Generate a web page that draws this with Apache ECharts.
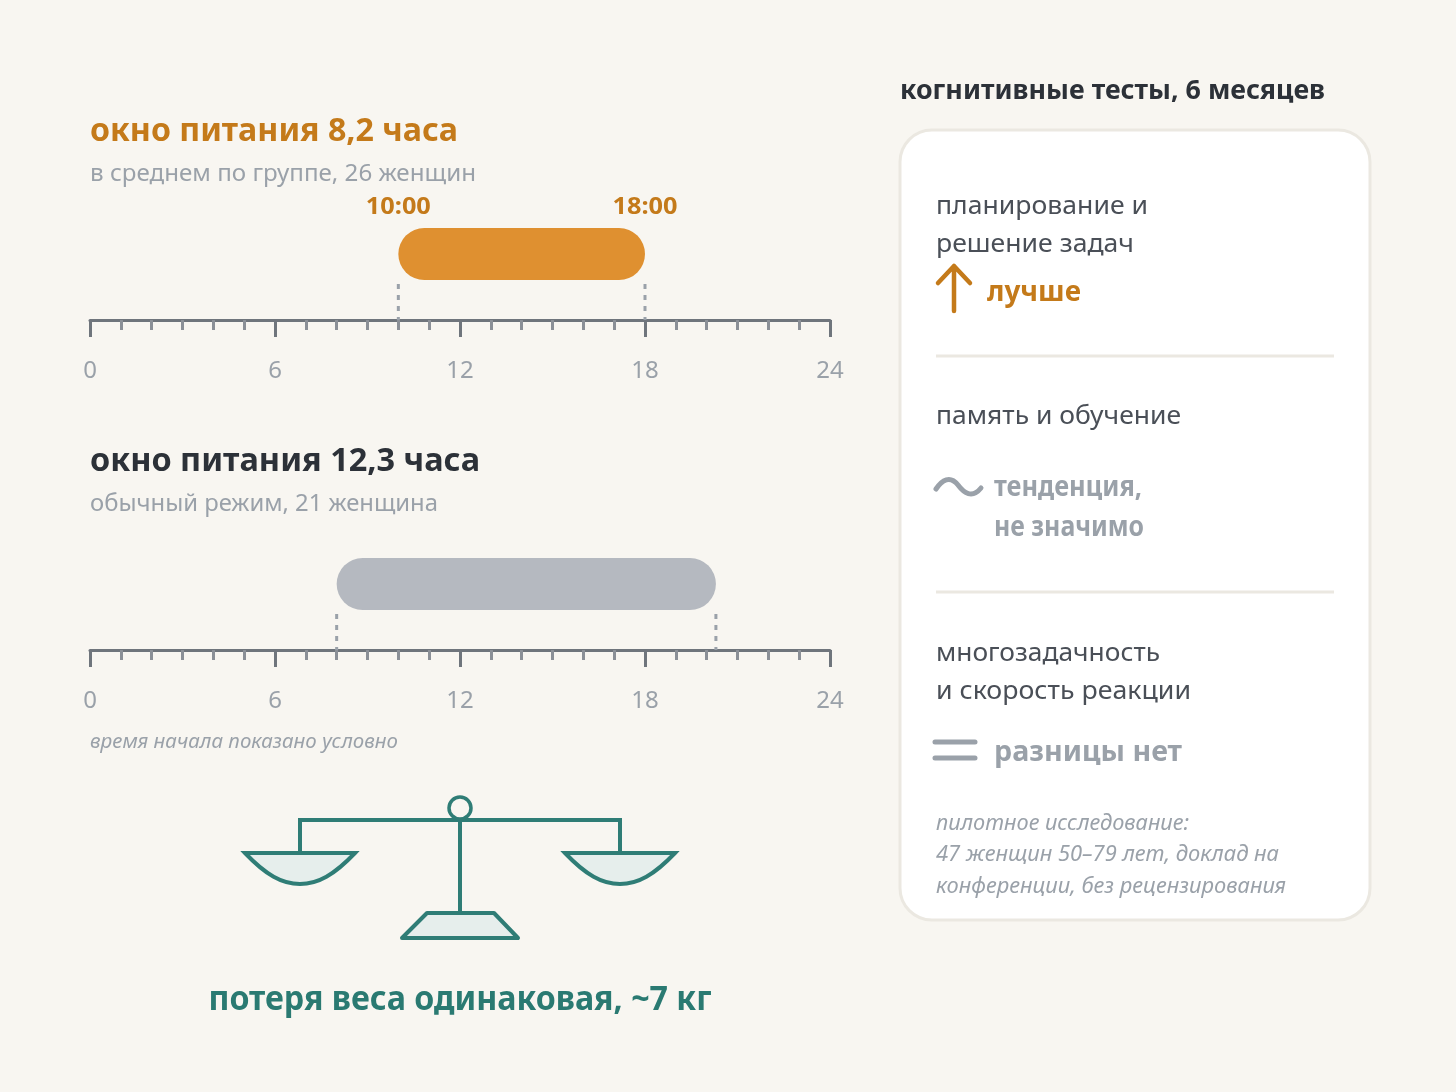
<!DOCTYPE html>
<html>
<head>
<meta charset="utf-8">
<script src="https://cdn.jsdelivr.net/npm/echarts@6/dist/echarts.min.js"></script>
<style>
  html, body { margin: 0; padding: 0; background: #f8f6f1; }
  #chart { width: 1456px; height: 1092px; }
</style>
</head>
<body>
<div id="chart"></div>
<script>
// часы: начало и конец окна питания
var shortWindow = [10, 18];
var usualWindow = [8, 20.3];
var shortTimeLabels = ['10:00', '18:00'];
var axisMax = 24;
var axisStep = 6;

var titleShort = 'окно питания 8,2 часа';
var subShort = 'в среднем по группе, 26 женщин';
var titleUsual = 'окно питания 12,3 часа';
var subUsual = 'обычный режим, 21 женщина';
var noteStart = 'время начала показано условно';
var weightText = 'потеря веса одинаковая, ~7 кг';
var cardHeading = 'когнитивные тесты, 6 месяцев';
var testPlanning = ['планирование и', 'решение задач'];
var verdictPlanning = 'лучше';
var testMemory = 'память и обучение';
var verdictMemory = ['тенденция,', 'не значимо'];
var testMulti = ['многозадачность', 'и скорость реакции'];
var verdictMulti = 'разницы нет';
var cardNote = ['пилотное исследование:', '47 женщин 50–79 лет, доклад на', 'конференции, без рецензирования'];

var FONT = '"Noto Sans", sans-serif';
var BG = '#f8f6f1', ORANGE = '#df9030', ORANGE_TXT = '#c47a1a', DARK = '#2c3138', GREY = '#9aa1a9',
    GREY_BAR = '#b5b9c0', BODY = '#4a4f57', TEAL = '#2f7d76', TEAL_TXT = '#2a7a72',
    AXIS = '#6f757c', TEAL_FILL = '#e6eeec', RULE = '#ebe8e1';

var measure = document.createElement('canvas').getContext('2d');

// текст, ужатый по горизонтали до нужной ширины
function txt(str, x, y, size, weight, color, width, italic, align) {
  var font = (italic ? 'italic ' : '') + weight + ' ' + size + 'px ' + FONT;
  measure.font = font;
  var w = measure.measureText(str).width;
  var style = { text: str, x: 0, y: 0, font: font, fill: color, textAlign: align || 'left', textVerticalAlign: 'middle' };
  return { type: 'text', x: x, y: y, scaleX: width ? width / w : 1, style: style };
}

function stroke(pathData, color, w, fill, join, cap) {
  return {
    type: 'path', shape: { pathData: pathData },
    style: { stroke: color, lineWidth: w, fill: fill || 'none', lineCap: cap || 'round', lineJoin: join || 'round' }
  };
}

function windowSeries(index, win, color, labels) {
  return {
    type: 'custom', xAxisIndex: index, yAxisIndex: index, clip: false, silent: true, z: 3,
    data: [win],
    renderItem: function (params, api) {
      var a = api.coord([api.value(0), 0]);
      var b = api.coord([api.value(1), 0]);
      var kids = [
        { type: 'rect', shape: { x: a[0], y: a[1] - 92, width: b[0] - a[0], height: 52, r: 26 }, style: { fill: color } }
      ];
      [a, b].forEach(function (p, i) {
        kids.push({
          type: 'line', shape: { x1: p[0], y1: p[1] - 36, x2: p[0], y2: p[1] },
          style: { stroke: GREY, lineWidth: 3, lineDash: [5, 6] }
        });
        if (labels) {
          kids.push(txt(labels[i], p[0], p[1] - 113, 24, 'bold', ORANGE_TXT, 65, false, 'center'));
        }
      });
      return { type: 'group', children: kids };
    },
    encode: { x: [0, 1] }
  };
}

function xAxisFor(index) {
  return {
    type: 'value', gridIndex: index, position: 'bottom', min: 0, max: axisMax, interval: axisStep,
    axisLine: { show: true, onZero: false, lineStyle: { color: AXIS, width: 3 } },
    axisTick: { show: true, length: 17, lineStyle: { color: AXIS, width: 3 } },
    minorTick: { show: true, splitNumber: axisStep, length: 10, lineStyle: { color: '#8b9097', width: 3 } },
    axisLabel: { color: GREY, fontFamily: FONT, fontSize: 24, margin: 39, hideOverlap: false },
    splitLine: { show: false }, minorSplitLine: { show: false }
  };
}

function yAxisFor(index) {
  return { type: 'value', gridIndex: index, min: 0, max: 1, show: false };
}

function decorItems() {
  return [
    // левая часть
    txt(titleShort, 90, 131.5, 32, 'bold', ORANGE_TXT, 368),
    txt(subShort, 90, 174, 24, 'normal', GREY, 386),
    txt(titleUsual, 90, 461.5, 32, 'bold', DARK, 390),
    txt(subUsual, 90, 504, 24, 'normal', GREY, 348),
    txt(noteStart, 90, 742, 20, 'normal', GREY, 308, true),

    // весы
    stroke('M300 853 V820 H620 V853', TEAL, 4, null, 'miter', 'butt'),
    stroke('M460 820 V913', TEAL, 4, null, 'miter', 'butt'),
    stroke('M245 853 H355 C334 875 318 884 300 884 C282 884 266 875 245 853 Z', TEAL, 4, TEAL_FILL, 'miter'),
    stroke('M565 853 H675 C654 875 638 884 620 884 C602 884 586 875 565 853 Z', TEAL, 4, TEAL_FILL, 'miter'),
    stroke('M427 913 H494 L518 938 H402 Z', TEAL, 4, TEAL_FILL),
    { type: 'circle', shape: { cx: 460, cy: 808, r: 11 }, style: { fill: BG, stroke: TEAL, lineWidth: 3.5 } },
    txt(weightText, 460, 1000, 34, 'bold', TEAL_TXT, 503, false, 'center'),

    // карточка
    txt(cardHeading, 900, 91, 27, 'bold', DARK, 425),
    { type: 'rect', shape: { x: 900, y: 130, width: 470, height: 790, r: 32 }, style: { fill: '#fff', stroke: RULE, lineWidth: 3 } },
    stroke('M936 356 H1334', RULE, 3, null, 'miter', 'butt'),
    stroke('M936 592 H1334', RULE, 3, null, 'miter', 'butt'),

    txt(testPlanning[0], 936, 207, 26, 'normal', BODY, 212),
    txt(testPlanning[1], 936, 245, 26, 'normal', BODY, 198),
    stroke('M954 311 V266 M938 283 L954 266 L970 283', ORANGE_TXT, 4.5),
    txt(verdictPlanning, 987, 293, 28, 'bold', ORANGE_TXT, 94),

    txt(testMemory, 936, 417, 26, 'normal', BODY, 245),
    stroke('M936 489 C942 480 950 475 958 485 C964 493 972 499 981 488', GREY, 5),
    txt(verdictMemory[0], 994, 488, 28, 'bold', GREY, 148),
    txt(verdictMemory[1], 994, 528, 28, 'bold', GREY, 150),

    txt(testMulti[0], 936, 654, 26, 'normal', BODY, 224),
    txt(testMulti[1], 936, 692, 26, 'normal', BODY, 255),
    stroke('M935 742 H975 M935 758 H975', GREY, 5),
    txt(verdictMulti, 994, 753, 28, 'bold', GREY, 188),

    txt(cardNote[0], 936, 824, 22, 'normal', GREY, 253, true),
    txt(cardNote[1], 936, 855, 22, 'normal', GREY, 343, true),
    txt(cardNote[2], 936, 887, 22, 'normal', GREY, 350, true)
  ];
}

var chart = echarts.init(document.getElementById('chart'), null, { renderer: 'canvas' });
chart.setOption({
  animation: false,
  backgroundColor: BG,
  grid: [
    { left: 90, width: 740, top: 310, height: 10 },
    { left: 90, width: 740, top: 640, height: 10 }
  ],
  xAxis: [xAxisFor(0), xAxisFor(1)],
  yAxis: [yAxisFor(0), yAxisFor(1)],
  series: [
    {
      type: 'custom', coordinateSystem: 'none', silent: true, z: 1, data: [0],
      renderItem: function () { return { type: 'group', children: decorItems() }; }
    },
    windowSeries(0, shortWindow, ORANGE, shortTimeLabels),
    windowSeries(1, usualWindow, GREY_BAR, null)
  ]
});
</script>
</body>
</html>
